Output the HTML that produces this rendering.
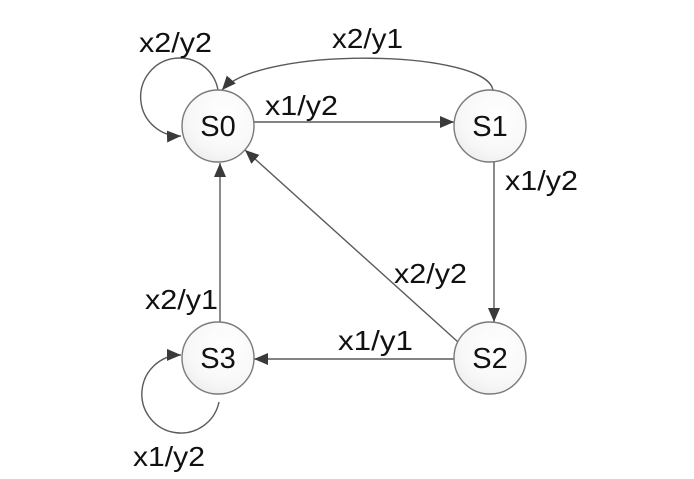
<!DOCTYPE html>
<html>
<head>
<meta charset="utf-8">
<style>
  html, body { margin: 0; padding: 0; background: #ffffff; }
  body { width: 694px; height: 479px; overflow: hidden; }
  svg { display: block; }
  text { font-family: "Liberation Sans", "DejaVu Sans", sans-serif; fill: #111; }
</style>
</head>
<body>
<svg width="694" height="479" viewBox="0 0 694 479" xmlns="http://www.w3.org/2000/svg">
  <defs>
    <marker id="arr" viewBox="0 0 14 12" refX="14" refY="6" markerWidth="14" markerHeight="12" markerUnits="userSpaceOnUse" orient="auto">
      <path d="M0,0 L14,6 L0,12 Z" fill="#3a3a3a"/>
    </marker>
    <radialGradient id="cg" cx="0.6" cy="0.35" r="0.75">
      <stop offset="0" stop-color="#ffffff"/>
      <stop offset="0.65" stop-color="#f8f8f8"/>
      <stop offset="1" stop-color="#ececec"/>
    </radialGradient>
  </defs>

  <g fill="none" stroke="#5a5a5a" stroke-width="1.4">
    <path d="M254 122 L454 122" marker-end="url(#arr)"/>
    <path d="M494 162 L494 322" marker-end="url(#arr)"/>
    <path d="M455 359 L254 359" marker-end="url(#arr)"/>
    <path d="M220 322 L220 163" marker-end="url(#arr)"/>
    <path d="M458 342 L245 150" marker-end="url(#arr)"/>
    <path d="M493 91 C490 50, 262 45, 222 90" marker-end="url(#arr)"/>
    <path d="M218 90 A39 39 0 1 0 181 136" marker-end="url(#arr)"/>
    <path d="M219 402 A39 39 0 1 1 181 355" marker-end="url(#arr)"/>
  </g>

  <g stroke="#7a7a7a" stroke-width="1.4" fill="url(#cg)">
    <circle cx="218" cy="126" r="36"/>
    <circle cx="490" cy="126" r="36"/>
    <circle cx="490" cy="358" r="36"/>
    <circle cx="218" cy="358" r="36"/>
  </g>

  <g font-size="29" text-anchor="middle">
    <text x="218" y="136">S0</text>
    <text x="490" y="136">S1</text>
    <text x="490" y="368">S2</text>
    <text x="218" y="368">S3</text>
  </g>

  <g font-size="28">
    <text x="139" y="52" textLength="73" lengthAdjust="spacingAndGlyphs">x2/y2</text>
    <text x="332" y="48" textLength="71" lengthAdjust="spacingAndGlyphs">x2/y1</text>
    <text x="265" y="115" textLength="73" lengthAdjust="spacingAndGlyphs">x1/y2</text>
    <text x="505" y="190" textLength="73" lengthAdjust="spacingAndGlyphs">x1/y2</text>
    <text x="394" y="283" textLength="73" lengthAdjust="spacingAndGlyphs">x2/y2</text>
    <text x="338" y="350" textLength="75" lengthAdjust="spacingAndGlyphs">x1/y1</text>
    <text x="145" y="309" textLength="73" lengthAdjust="spacingAndGlyphs">x2/y1</text>
    <text x="133" y="466" textLength="72" lengthAdjust="spacingAndGlyphs">x1/y2</text>
  </g>
</svg>
</body>
</html>
